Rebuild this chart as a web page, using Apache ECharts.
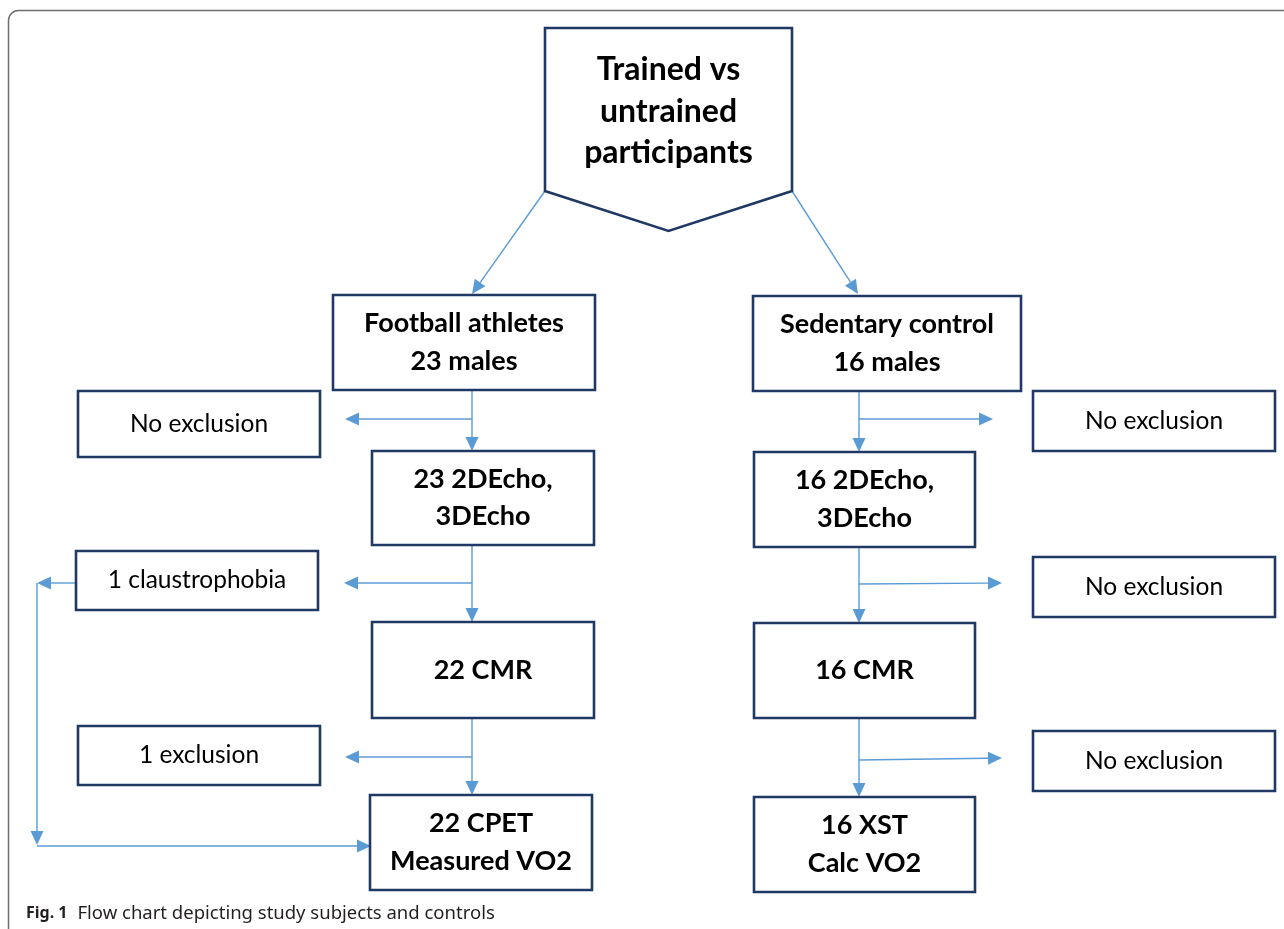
<!DOCTYPE html>
<html>
<head>
<meta charset="utf-8">
<script src="https://cdn.jsdelivr.net/npm/echarts@6/dist/echarts.min.js"></script>
<style>
html,body{margin:0;padding:0;background:#fff;}
#chart{width:1284px;height:929px;}
</style>
</head>
<body>
<div id="chart"></div>
<script>
// ---- Flowchart content ----
const boxLabels = [
  'Trained vs\nuntrained\nparticipants',
  'Football athletes\n23 males',
  'Sedentary control\n16 males',
  'No exclusion',
  '23 2DEcho,\n3DEcho',
  'No exclusion',
  '16 2DEcho,\n3DEcho',
  '1 claustrophobia',
  '22 CMR',
  'No exclusion',
  '16 CMR',
  '1 exclusion',
  'No exclusion',
  '22 CPET\nMeasured VO2',
  '16 XST\nCalc VO2'
];
const boxKind = ['start','main','main','side','main','side','main','side','main','side','main','side','side','main','main'];

// ---- Layout (page coordinates on hidden axes) ----
const boxLeft   = [545, 333, 753,   78, 372, 1033, 754,  76, 372, 1033, 754,  78, 1033, 370, 754];
const boxTop    = [ 28, 295, 296,  391, 451,  391, 452, 551, 622,  557, 623, 726,  731, 795, 797];
const boxRight  = [792, 595, 1021, 320, 594, 1275, 975, 318, 594, 1275, 975, 320, 1275, 592, 975];
const boxBottom = [191, 390, 391,  457, 545,  451, 547, 610, 718,  617, 718, 785,  791, 890, 892];
const pentagonTipY = 231;

// connector segments, each ending in an arrowhead
const edgeX1 = [545, 792, 472, 472, 859, 859, 472, 472,  76,  37,  37, 859, 859, 472, 472, 859, 859];
const edgeY1 = [191, 191, 390, 419, 391, 419, 545, 583, 583, 583, 846, 547, 584, 718, 757, 718, 760];
const edgeX2 = [472, 858, 472, 345, 859, 993, 472, 344,  37,  37, 371, 859, 1002, 472, 345, 859, 1002];
const edgeY2 = [294, 294, 451, 419, 452, 419, 622, 583, 583, 845, 846, 623, 583, 795, 757, 797, 758];

const captionBold = 'Fig. 1';
const captionText = 'Flow chart depicting study subjects and controls';

const chart = echarts.init(document.getElementById('chart'));

const boxData = boxLabels.map((t, i) => [boxLeft[i], boxTop[i], boxRight[i], boxBottom[i], i]);
const edgeData = edgeX1.map((x, i) => [x, edgeY1[i], edgeX2[i], edgeY2[i]]);

const NAVY = '#1f3864';
const BLUE = '#5b9bd5';

function renderBox(params, api) {
  const i = api.value(4);
  const p0 = api.coord([api.value(0), api.value(1)]);
  const p1 = api.coord([api.value(2), api.value(3)]);
  const kind = boxKind[i];
  let points;
  if (kind === 'start') {
    const tip = api.coord([(api.value(0) + api.value(2)) / 2, pentagonTipY]);
    points = [[p0[0], p0[1]], [p1[0], p0[1]], [p1[0], p1[1]], tip, [p0[0], p1[1]]];
  } else {
    points = [[p0[0], p0[1]], [p1[0], p0[1]], [p1[0], p1[1]], [p0[0], p1[1]]];
  }
  const cx = (p0[0] + p1[0]) / 2;
  const cy = (p0[1] + p1[1]) / 2 + (kind === 'start' ? 2 : 0);
  const fs = kind === 'start' ? 32 : (kind === 'main' ? 27 : 24.5);
  const lh = kind === 'start' ? 41.5 : 37.5;
  return {
    type: 'group',
    children: [
      {
        type: 'polygon',
        shape: { points: points },
        style: { fill: '#fff', stroke: NAVY, lineWidth: 2.6, lineJoin: 'miter' }
      },
      {
        type: 'text',
        style: {
          text: boxLabels[i],
          x: cx, y: cy,
          align: 'center', verticalAlign: 'middle',
          fontFamily: 'Lato',
          fontWeight: kind === 'side' ? 'normal' : 'bold',
          fontSize: fs,
          lineHeight: lh,
          fill: '#000'
        }
      }
    ]
  };
}

function renderEdge(params, api) {
  const a = api.coord([api.value(0), api.value(1)]);
  const b = api.coord([api.value(2), api.value(3)]);
  const dx = b[0] - a[0], dy = b[1] - a[1];
  const len = Math.sqrt(dx * dx + dy * dy);
  const ux = dx / len, uy = dy / len;
  const L = 14, W = 6.5;
  const base = [b[0] - ux * L, b[1] - uy * L];
  const left = [base[0] - uy * W, base[1] + ux * W];
  const right = [base[0] + uy * W, base[1] - ux * W];
  return {
    type: 'group',
    children: [
      {
        type: 'line',
        shape: { x1: a[0], y1: a[1], x2: base[0], y2: base[1] },
        style: { stroke: BLUE, lineWidth: 1.4 }
      },
      {
        type: 'polygon',
        shape: { points: [b, left, right] },
        style: { fill: BLUE }
      }
    ]
  };
}

chart.setOption({
  animation: false,
  backgroundColor: '#fff',
  title: {
    left: 26, top: 904, padding: 0,
    text: '{b|' + captionBold + '}  {n|' + captionText + '}',
    textStyle: {
      rich: {
        b: { fontFamily: 'Noto Sans', fontWeight: 'bold', fontSize: 16, color: '#231f20' },
        n: { fontFamily: 'Noto Sans', fontWeight: 'normal', fontSize: 18.5, color: '#231f20' }
      }
    }
  },
  graphic: [{
    type: 'rect', z: -10,
    shape: { x: 8.5, y: 10.5, width: 1300, height: 940, r: 10 },
    style: { fill: 'none', stroke: '#6d6e71', lineWidth: 1.5 }
  }],
  grid: { left: 0, right: 0, top: 0, bottom: 0 },
  xAxis: { type: 'value', min: 0, max: 1284, show: false },
  yAxis: { type: 'value', min: 0, max: 929, inverse: true, show: false },
  series: [
    {
      type: 'custom', name: 'connectors', clip: false,
      renderItem: renderEdge,
      data: edgeData, z: 1, silent: true
    },
    {
      type: 'custom', name: 'boxes', clip: false,
      renderItem: renderBox,
      data: boxData, z: 2, silent: true
    }
  ]
});
</script>
</body>
</html>
